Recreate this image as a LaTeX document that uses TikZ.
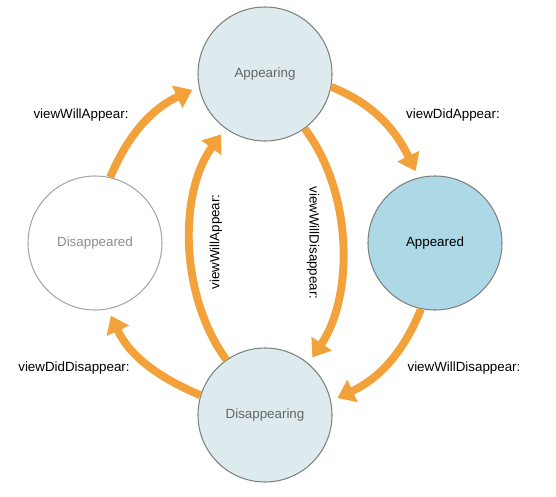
\documentclass[tikz,border=0pt]{standalone}
\usepackage{fontspec}
\setmainfont{Liberation Sans}
\usetikzlibrary{arrows.meta}

\definecolor{arrorange}{HTML}{F3A23B}
\definecolor{palefill}{HTML}{DDEBEE}
\definecolor{bluefill}{HTML}{ADD8E6}

\begin{document}
\begin{tikzpicture}[
  font=\fontsize{7.6}{9}\selectfont,
  state/.style={circle, minimum size=2.68cm, line width=0.6pt, draw=black!50},
  trans/.style={draw=arrorange, line width=4.5pt, shorten >=4pt,
    -{Triangle[length=9.5pt,width=13.5pt]}},
  lbl/.style={inner sep=1pt}
]
\useasboundingbox (0,0) rectangle (11.12,9.92);

% states
\node[state, fill=palefill, text=black!60] (appearing) at (5.30,8.44) {Appearing};
\node[state, fill=bluefill] (appeared) at (8.70,5.06) {Appeared};
\node[state, fill=palefill, text=black!60] (disappearing) at (5.30,1.62) {Disappearing};
\node[state, draw=black!35, text=black!45] (disappeared) at (1.90,5.06) {Disappeared};

% outer ring
\draw[trans] (disappeared.77) to[out=67,in=205] (appearing.191);
\draw[trans] (appearing.349) to[out=-22,in=116] (appeared.104);
\draw[trans] (appeared.258) to[out=248,in=25] (disappearing.12);
\draw[trans] (disappearing.163) to[out=157,in=295] (disappeared.281);

% inner pair
\draw[trans] (disappearing.125) to[out=126,in=234,looseness=0.88] (appearing.234);
\draw[trans] (appearing.306) to[out=-53,in=56,looseness=0.88] (disappearing.50);

% labels
\node[lbl] (willappear) at (1.62,7.62) {viewWillAppear:};
\node[lbl] (didappear) at (9.06,7.62) {viewDidAppear:};
\node[lbl] (diddisappear) at (1.48,2.56) {viewDidDisappear:};
\node[lbl] (willdisappear) at (9.28,2.56) {viewWillDisappear:};
\node[lbl, rotate=90] (innerappear) at (4.32,5.08) {viewWillAppear:};
\node[lbl, rotate=-90] (innerdisappear) at (6.26,5.06) {viewWillDisappear:};
\end{tikzpicture}
\end{document}
